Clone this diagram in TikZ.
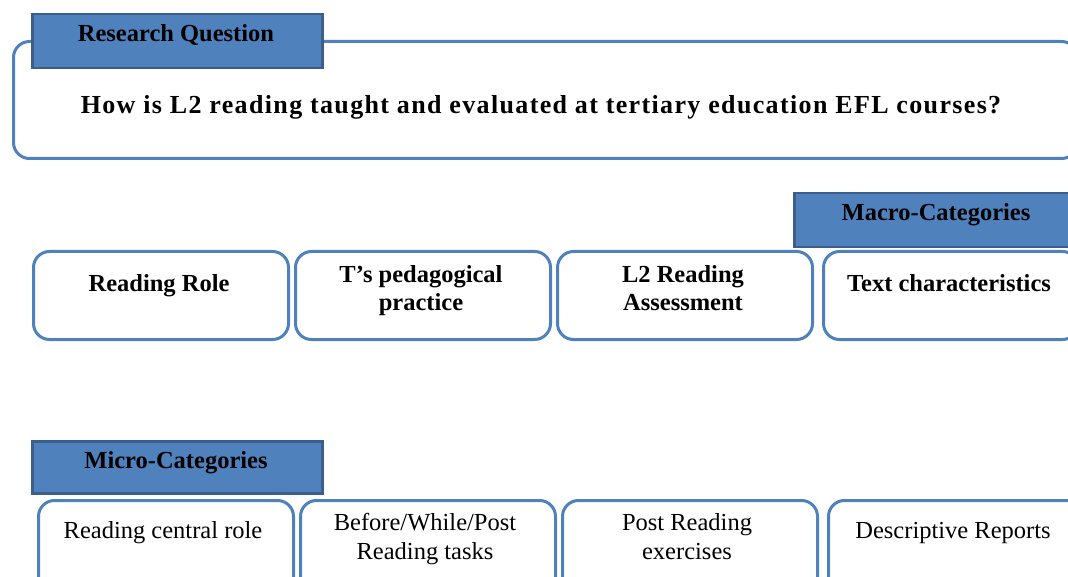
\documentclass[tikz,border=0pt]{standalone}
\usepackage{fontspec}
\setmainfont{Liberation Serif}
\definecolor{boxblue}{HTML}{4F81BD}
\definecolor{tabedge}{HTML}{3B5E8C}
\tikzset{catbox/.style={draw=boxblue, line width=3pt, rounded corners=16pt, fill=white, inner sep=0pt, anchor=north west, minimum width=255pt, minimum height=88pt},
  tab/.style={draw=tabedge, fill=boxblue, line width=2.5pt, inner sep=0pt, anchor=north west, minimum height=54pt},
  boldtext/.style={font=\bfseries\fontsize{24.5}{28}\selectfont, align=center, inner sep=0pt, anchor=base},
  plaintext/.style={font=\fontsize{24.5}{29}\selectfont, align=center, inner sep=0pt, anchor=base}}

\begin{document}
\begin{tikzpicture}[x=1pt, y=-1pt]
    \useasboundingbox (0,0) rectangle (1068,577);
    \clip (0,0) rectangle (1068,577);
    % research question
    \node [catbox, minimum width=1064pt, minimum height=117pt] (question) at (12,40) {};
    \node [tab, minimum width=290pt] (rqtab) at (31,13) {};
    \node [boldtext] (rqlabel) at (176,42) {Research Question};
    \node [boldtext, font=\bfseries\fontsize{26}{30}\selectfont\addfontfeature{LetterSpace=5.2}] (qtext) at (541,114) {How is L2 reading taught and evaluated at tertiary education EFL courses?};
    % macro-categories
    \node [tab, minimum width=285pt] (macrotab) at (793,192) {};
    \node [boldtext] (macrolabel) at (936,221) {Macro-Categories};
    % the two-line texts sit on the baseline of their last line
    \foreach \x/\y/\n/\t in {32/291/1/{Reading Role}, 294/310/2/{T's pedagogical\\practice}, 556/310/3/{L2 Reading\\Assessment}, 822/291/4/{Text characteristics}} {
      \node [catbox] (macro\n) at (\x,250) {};
      \node [boldtext] (macro\n text) at (\x+127,\y) {\t};
    }
    % micro-categories
    \node [tab, minimum width=290pt, minimum height=52pt] (microtab) at (31,440) {};
    \node [boldtext] (microlabel) at (176,468) {Micro-Categories};
    \foreach \x/\y/\n/\t in {37/538/1/{Reading central role}, 299/559/2/{Before/While/Post\\Reading tasks}, 561/559/3/{Post Reading\\exercises}, 827/538/4/{Descriptive Reports}} {
      \node [catbox, minimum height=100pt] (micro\n) at (\x,499) {};
      \node [plaintext] (micro\n text) at (\x+126,\y) {\t};
    }
  \end{tikzpicture}
\end{document}
